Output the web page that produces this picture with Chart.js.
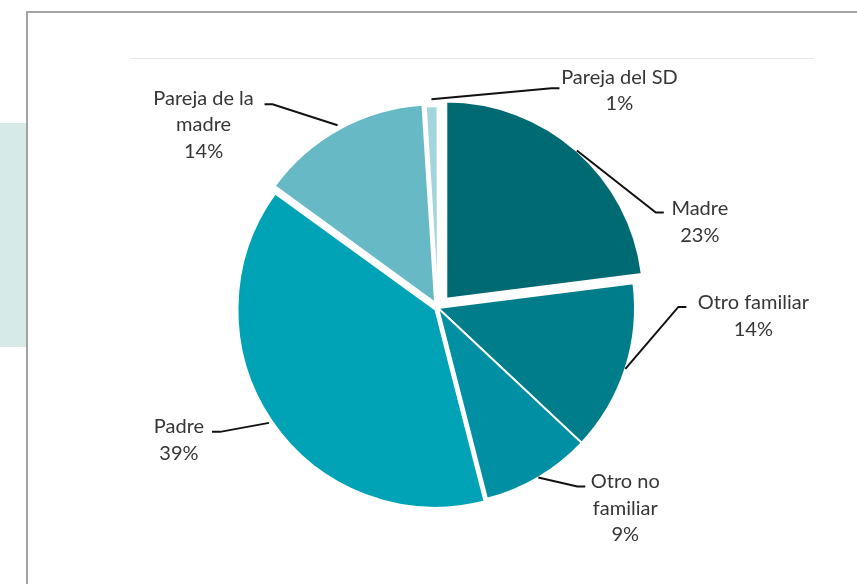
<!DOCTYPE html>
<html>
<head>
<meta charset="utf-8">
<script src="https://cdn.jsdelivr.net/npm/chart.js@4"></script>
<style>
  html, body { margin: 0; padding: 0; background: #fff; }
  #wrap { position: relative; width: 857px; height: 584px; overflow: hidden; }
  .side-box { position: absolute; left: 0; top: 123px; width: 27px; height: 224px; background: #d6ebe8; }
  .frame { position: absolute; left: 26px; top: 11px; width: 900px; height: 700px; border: 2px solid #a3a3a3; }
  .top-rule { position: absolute; left: 131px; top: 58px; width: 683px; height: 1px; background: #e6e6e6; }
  #pie { position: absolute; left: 0; top: 0; }
</style>
</head>
<body>
<div id="wrap">
  <div class="side-box"></div>
  <div class="frame"></div>
  <div class="top-rule"></div>
  <canvas id="pie" width="857" height="584"></canvas>
</div>
<script>
// data
const categories = ["Madre", "Otro familiar", "Otro no familiar", "Padre", "Pareja de la madre", "Pareja del SD"];
const shares = [23, 14, 9, 39, 14, 1];
// how each category name wraps in its label
const nameLines = [["Madre"], ["Otro familiar"], ["Otro no", "familiar"], ["Padre"], ["Pareja de la", "madre"], ["Pareja del SD"]];

// leader lines + labels, starting at each arc's outer edge (mid angle)
const leaderLabels = {
  id: "leaderLabels",
  afterDatasetsDraw(chart, args, opts) {
    const ctx = chart.ctx;
    const meta = chart.getDatasetMeta(0);
    meta.data.forEach((arc, i) => {
      const p = opts.place[i];
      const mid = (arc.startAngle + arc.endAngle) / 2;
      const off = arc.options.offset || 0;
      // same shift/grow the arc element applies when drawing an offset slice
      const grow = off * (1 - Math.sin(Math.min(Math.PI, arc.circumference)));
      const r = arc.outerRadius + grow + off / 4;
      const ax = arc.x + Math.cos(mid) * r;
      const ay = arc.y + Math.sin(mid) * r;
      const ex = ax + p.dx;
      const ey = ay + p.dy;

      ctx.save();
      ctx.strokeStyle = "#111";
      ctx.lineWidth = 2;
      ctx.beginPath();
      ctx.moveTo(ax, ay);
      ctx.lineTo(ex, ey);
      ctx.lineTo(ex + p.side * 8, ey);
      ctx.stroke();

      ctx.fillStyle = "#363636";
      ctx.font = "20px Lato";
      ctx.textAlign = "center";
      ctx.textBaseline = "middle";
      const lines = nameLines[i].concat([shares[i] + "%"]);
      lines.forEach((t, k) => ctx.fillText(t, ex + p.tx, ey + p.ty + k * 26.5));
      ctx.restore();
    });
  },
};

new Chart(document.getElementById("pie"), {
  type: "pie",
  data: {
    labels: categories,
    datasets: [
      {
        data: shares,
        backgroundColor: ["#006a72", "#007d8b", "#008fa3", "#00a2b6", "#66b9c5", "#a4d4dc"],
        borderColor: "#ffffff",
        borderWidth: 2,
        borderJoinStyle: "miter",
        offset: [50, 0, 0, 12, 24, 10],
      },
    ],
  },
  options: {
    responsive: false,
    animation: false,
    radius: 197,
    layout: { padding: { left: 39, right: 20, top: 52, bottom: 20 } },
    events: [],
    plugins: {
      legend: { display: false },
      tooltip: { enabled: false },
      leaderLabels: {
        place: [
          { dx: 79, dy: 62, side: 1, tx: 44, ty: -4 },
          { dx: 53, dy: -62, side: 1, tx: 75, ty: -4 },
          { dx: 39, dy: 9, side: 1, tx: 48, ty: -5 },
          { dx: -49, dy: 9, side: -1, tx: -41, ty: -5 },
          { dx: -65, dy: -21, side: -1, tx: -69, ty: -6 },
          { dx: 120, dy: -11, side: 1, tx: 68, ty: -11 },
        ],
      },
    },
  },
  plugins: [leaderLabels],
});
</script>
</body>
</html>
